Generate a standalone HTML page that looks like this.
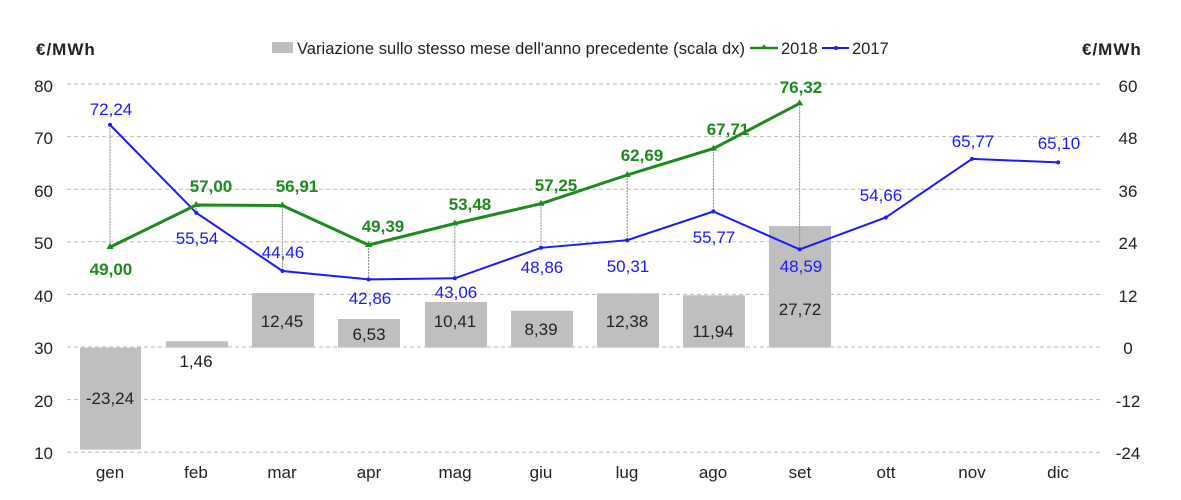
<!DOCTYPE html>
<html><head><meta charset="utf-8"><style>body{margin:0;background:#fff}svg{display:block;font-family:"Liberation Sans",Arial,sans-serif}</style></head>
<body>
<svg width="1181" height="500" viewBox="0 0 1181 500">
<rect width="1181" height="500" fill="#fff"/>
<g stroke="#bbb" stroke-dasharray="4,3" stroke-width="1">
<line x1="67" y1="84" x2="1100" y2="84"/><line x1="67" y1="136.6" x2="1100" y2="136.6"/>
<line x1="67" y1="189.2" x2="1100" y2="189.2"/><line x1="67" y1="241.8" x2="1100" y2="241.8"/>
<line x1="67" y1="294.4" x2="1100" y2="294.4"/><line x1="67" y1="347" x2="1100" y2="347"/>
<line x1="67" y1="399.6" x2="1100" y2="399.6"/><line x1="67" y1="452.2" x2="1100" y2="452.2"/>
</g>
<g fill="#bfbfbf">
<rect x="80" y="347.6" width="61" height="101.9"/>
<rect x="166" y="341.2" width="62" height="6.4"/>
<rect x="252" y="293" width="62" height="54.6"/>
<rect x="338" y="319" width="62" height="28.6"/>
<rect x="425" y="302" width="62" height="45.6"/>
<rect x="511" y="310.8" width="62" height="36.8"/>
<rect x="597" y="293.3" width="62" height="54.3"/>
<rect x="683" y="295.3" width="62" height="52.3"/>
<rect x="769" y="226.1" width="62" height="121.5"/>
</g>
<g stroke="#888" stroke-width="1" stroke-dasharray="2,1">
<line x1="110" y1="124.8" x2="110" y2="247.1"/><line x1="196.2" y1="205" x2="196.2" y2="212.7"/>
<line x1="282.4" y1="205.5" x2="282.4" y2="271"/><line x1="368.6" y1="245" x2="368.6" y2="279.4"/>
<line x1="454.8" y1="223.5" x2="454.8" y2="278.3"/><line x1="541" y1="203.7" x2="541" y2="247.8"/>
<line x1="627.2" y1="175" x2="627.2" y2="240.2"/><line x1="713.4" y1="148.6" x2="713.4" y2="211.5"/>
<line x1="799.6" y1="103.4" x2="799.6" y2="249.4"/>
</g>
<polyline fill="none" stroke="#1a1aff" stroke-width="2" points="110,124.8 196.2,212.7 282.4,271 368.6,279.4 454.8,278.3 541,247.8 627.2,240.2 713.4,211.5 799.6,249.4 885.8,217.5 972,158.9 1058.2,162.4"/>
<g fill="#1a1aff"><circle cx="110" cy="124.8" r="2"/><circle cx="196.2" cy="212.7" r="2"/><circle cx="282.4" cy="271" r="2"/><circle cx="368.6" cy="279.4" r="2"/><circle cx="454.8" cy="278.3" r="2"/><circle cx="541" cy="247.8" r="2"/><circle cx="627.2" cy="240.2" r="2"/><circle cx="713.4" cy="211.5" r="2"/><circle cx="799.6" cy="249.4" r="2"/><circle cx="885.8" cy="217.5" r="2"/><circle cx="972" cy="158.9" r="2"/><circle cx="1058.2" cy="162.4" r="2"/></g>
<polyline fill="none" stroke="#1e8a1e" stroke-width="3" points="110,247.1 196.2,205 282.4,205.5 368.6,245 454.8,223.5 541,203.7 627.2,175 713.4,148.6 799.6,103.4"/>
<g fill="#1e8a1e">
<path d="M110,243 l3.5,6 h-7z"/><path d="M196.2,201 l3.5,6 h-7z"/><path d="M282.4,201.5 l3.5,6 h-7z"/><path d="M368.6,241 l3.5,6 h-7z"/><path d="M454.8,219.5 l3.5,6 h-7z"/><path d="M541,199.7 l3.5,6 h-7z"/><path d="M627.2,171 l3.5,6 h-7z"/><path d="M713.4,144.6 l3.5,6 h-7z"/><path d="M799.6,99.4 l3.5,6 h-7z"/>
</g>
<g font-size="17" fill="#222" text-anchor="end">
<text x="53" y="92">80</text><text x="53" y="144">70</text><text x="53" y="197">60</text><text x="53" y="249">50</text><text x="53" y="302">40</text><text x="53" y="354">30</text><text x="53" y="407">20</text><text x="53" y="459">10</text>
</g>
<g font-size="17" fill="#222" text-anchor="middle">
<text x="1128" y="92">60</text><text x="1128" y="144">48</text><text x="1128" y="197">36</text><text x="1128" y="249">24</text><text x="1128" y="302">12</text><text x="1128" y="354">0</text><text x="1128" y="407">-12</text><text x="1128" y="459">-24</text>
</g>
<g font-size="17" fill="#222" text-anchor="middle">
<text x="110" y="478">gen</text><text x="196" y="478">feb</text><text x="282" y="478">mar</text><text x="369" y="478">apr</text><text x="455" y="478">mag</text><text x="541" y="478">giu</text><text x="627" y="478">lug</text><text x="713" y="478">ago</text><text x="800" y="478">set</text><text x="886" y="478">ott</text><text x="972" y="478">nov</text><text x="1058" y="478">dic</text>
</g>
<g font-size="17" font-weight="bold" fill="#222" letter-spacing="1">
<text x="36" y="55">€/MWh</text><text x="1082" y="55">€/MWh</text>
</g>
<g font-size="16.5" fill="#222">
<rect x="272" y="42" width="21" height="11" fill="#bfbfbf"/>
<text x="297" y="54" textLength="448">Variazione sullo stesso mese dell'anno precedente (scala dx)</text>
<line x1="750" y1="48" x2="778" y2="48" stroke="#1e8a1e" stroke-width="2.5"/><path d="M764,44 l3,5 h-6z" fill="#1e8a1e"/>
<text x="781" y="54">2018</text>
<line x1="822" y1="48" x2="849" y2="48" stroke="#1a1aff" stroke-width="2"/><circle cx="836" cy="48" r="2" fill="#1a1aff"/>
<text x="852" y="54">2017</text>
</g>
<g font-size="17" fill="#222" text-anchor="middle">
<text x="110" y="404">-23,24</text><text x="196" y="367">1,46</text><text x="282" y="327">12,45</text><text x="369" y="340">6,53</text><text x="455" y="327">10,41</text><text x="541" y="335">8,39</text><text x="627" y="327">12,38</text><text x="713" y="337">11,94</text><text x="800" y="315">27,72</text>
</g>
<g font-size="17" fill="#1a1aff" text-anchor="middle">
<text x="111" y="115">72,24</text><text x="197" y="244">55,54</text><text x="283" y="258">44,46</text><text x="370" y="304">42,86</text><text x="456" y="298">43,06</text><text x="542" y="273">48,86</text><text x="628" y="272">50,31</text><text x="714" y="243">55,77</text><text x="801" y="272">48,59</text><text x="881" y="201">54,66</text><text x="973" y="147">65,77</text><text x="1059" y="149">65,10</text>
</g>
<g font-size="17" font-weight="bold" fill="#1e8a1e" text-anchor="middle">
<text x="111" y="275">49,00</text><text x="211" y="192">57,00</text><text x="297" y="192">56,91</text><text x="383" y="232">49,39</text><text x="470" y="210">53,48</text><text x="556" y="191">57,25</text><text x="642" y="161">62,69</text><text x="728" y="135">67,71</text><text x="801" y="93">76,32</text>
</g>
</svg>
</body></html>
